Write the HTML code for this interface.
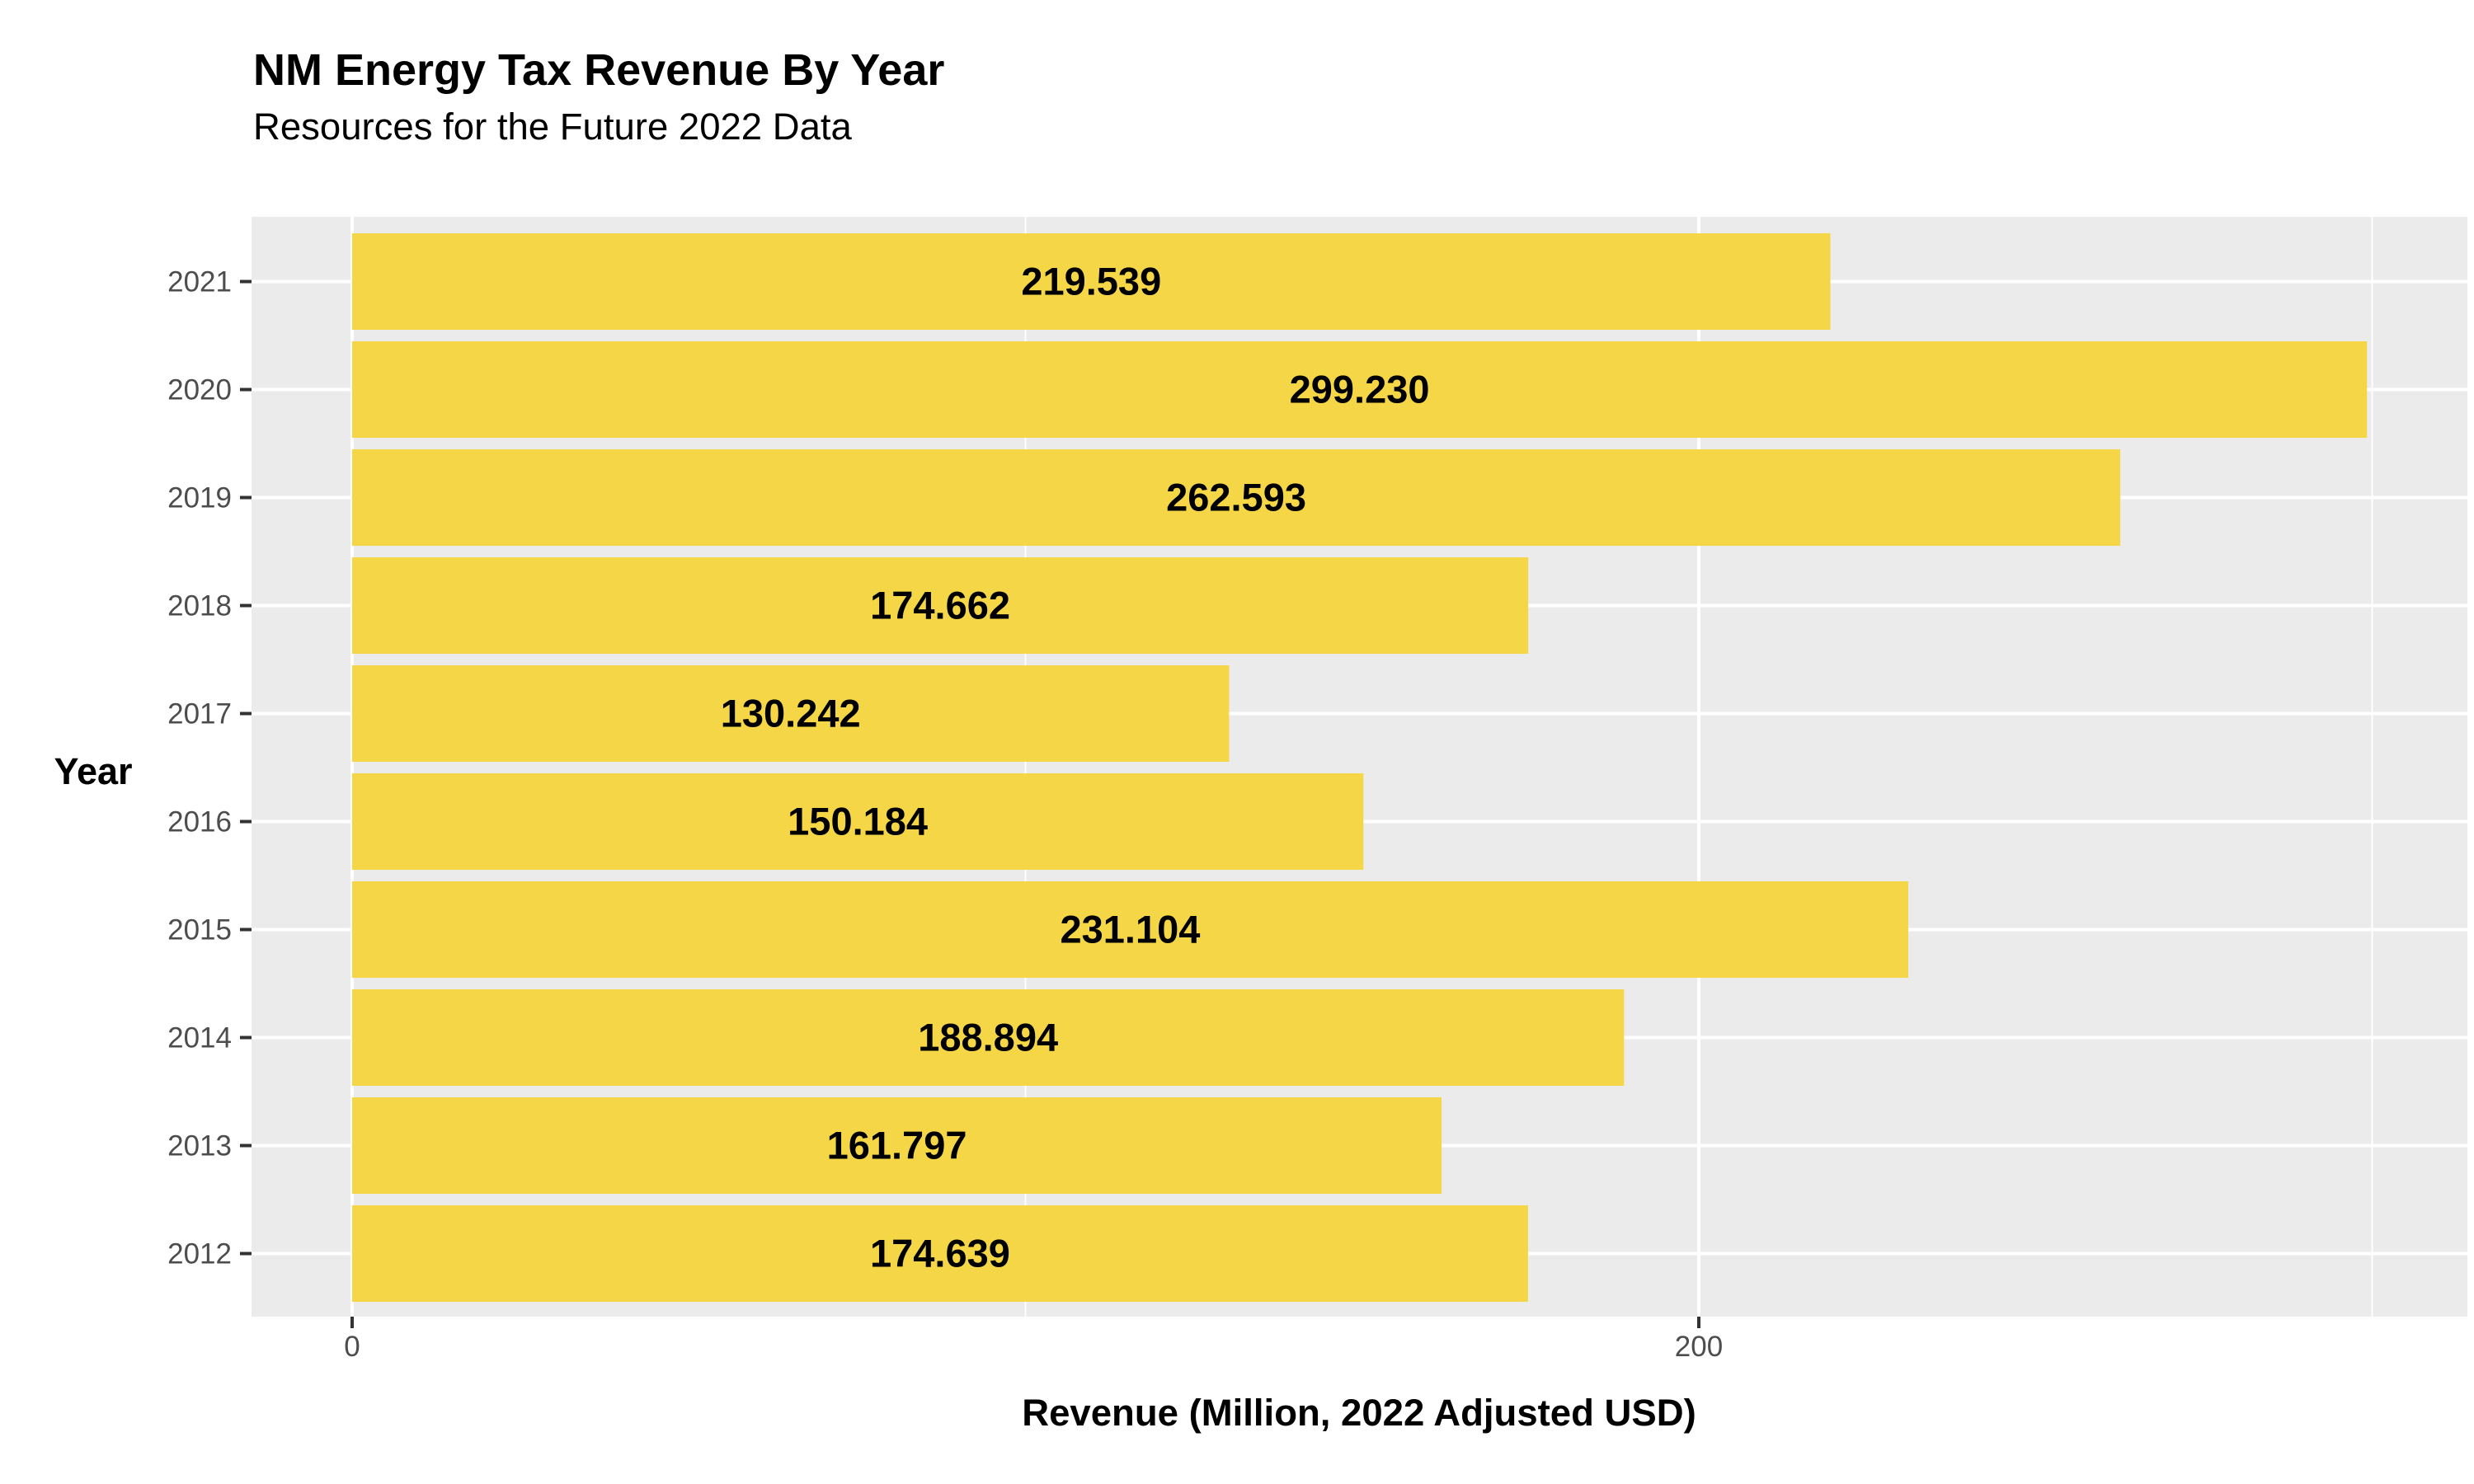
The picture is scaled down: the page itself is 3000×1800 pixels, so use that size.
<!DOCTYPE html>
<html><head><meta charset="utf-8"><style>
html,body{margin:0;padding:0;background:#fff;}
svg{display:block;font-family:"Liberation Sans",Arial,sans-serif;}
</style></head><body>
<svg id="chart" width="3000" height="1800" viewBox="0 0 3000 1800" xmlns="http://www.w3.org/2000/svg">
<rect x="0" y="0" width="3000" height="1800" fill="#fff"/>
<text x="307" y="103" font-size="54" font-weight="bold" fill="#000">NM Energy Tax Revenue By Year</text>
<text x="307" y="169" font-size="45.5" fill="#000">Resources for the Future 2022 Data</text>
<rect x="305" y="263" width="2687" height="1334" fill="#ebebeb"/>
<g id="grid"></g>
<g id="bars"></g>
<g id="yaxis"></g>
<g id="xaxis"></g>
<text x="1648" y="1729" font-size="45.5" font-weight="bold" text-anchor="middle" fill="#000">Revenue (Million, 2022 Adjusted USD)</text>
<text x="113" y="951" font-size="45" font-weight="bold" text-anchor="middle" fill="#000">Year</text>
</svg>
<script>
const years = ["2012","2013","2014","2015","2016","2017","2018","2019","2020","2021"];
const revenue = [174.639,161.797,188.894,231.104,150.184,130.242,174.662,262.593,299.230,219.539];
const xMajorTicks = [0,200];
const xMinorTicks = [100,300];

const NS="http://www.w3.org/2000/svg";
const X0=427, PXU=8.165;
function xs(v){return X0+v*PXU;}
const topCenter=341.5, step=131, barH=117;
function ys(i){return topCenter+(years.length-1-i)*step;}
function mk(tag,attrs,parent){const e=document.createElementNS(NS,tag);for(const k in attrs)e.setAttribute(k,attrs[k]);parent.appendChild(e);return e;}
const grid=document.getElementById('grid'),bars=document.getElementById('bars'),ya=document.getElementById('yaxis'),xa=document.getElementById('xaxis');
xMinorTicks.forEach(v=>{const l=mk('line',{x1:xs(v),x2:xs(v),y1:263,y2:1597,stroke:'#fff','stroke-width':2},grid);

});
years.forEach((y,i)=>{const l=mk('line',{x1:305,x2:2992,y1:ys(i),y2:ys(i),stroke:'#fff','stroke-width':4},grid);

});
xMajorTicks.forEach(v=>{const l=mk('line',{x1:xs(v),x2:xs(v),y1:263,y2:1597,stroke:'#fff','stroke-width':4},grid);


const t=mk('line',{x1:xs(v),x2:xs(v),y1:1597,y2:1611,stroke:'#333','stroke-width':4},xa);


const tx=mk('text',{x:xs(v),y:1645,'font-size':35,'text-anchor':'middle',fill:'#4d4d4d'},xa);
tx.textContent=String(v);

});
years.forEach((y,i)=>{const v=revenue[i];const cy=ys(i);
const r=mk('rect',{x:X0,y:cy-barH/2,width:xs(v)-X0,height:barH,fill:'#f5d646'},bars);


const t=mk('text',{x:(X0+xs(v))/2,y:cy+16,'font-size':47,'font-weight':'bold','text-anchor':'middle',fill:'#000'},bars);
t.textContent=v.toFixed(3);


const tk=mk('line',{x1:291,x2:305,y1:cy,y2:cy,stroke:'#333','stroke-width':4},ya);


const lb=mk('text',{x:281,y:cy+12,'font-size':35,'text-anchor':'end',fill:'#4d4d4d'},ya);
lb.textContent=y;

});
</script>
</body></html>
